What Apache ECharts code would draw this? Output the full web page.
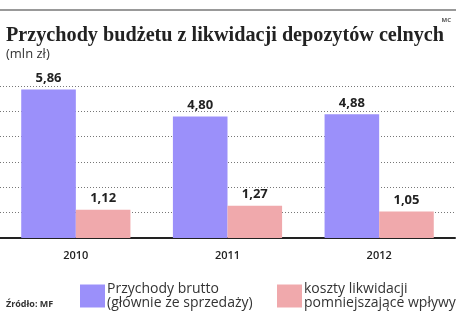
<!DOCTYPE html>
<html>
<head>
<meta charset="utf-8">
<script src="https://cdn.jsdelivr.net/npm/echarts@6/dist/echarts.min.js"></script>
<style>
html, body { margin: 0; padding: 0; background: #fff; }
#chart { width: 456px; height: 312px; }
</style>
</head>
<body>
<div id="chart"></div>
<script>
// dane z wykresu
var years = ['2010', '2011', '2012'];
var brutto = [5.86, 4.80, 4.88];
var koszty = [1.12, 1.27, 1.05];
var yTicks = [0, 1, 2, 3, 4, 5, 6];
var seriesNames = ['Przychody brutto', 'koszty likwidacji'];
var legendLabels = {
  'Przychody brutto': 'Przychody brutto\n(głównie ze sprzedaży)',
  'koszty likwidacji': 'koszty likwidacji\npomniejszające wpływy'
};

var chart = echarts.init(document.getElementById('chart'));

function fmt(p) {
  return p.value.toFixed(2).replace('.', ',');
}

var labelStyle = {
  show: true,
  position: 'top',
  distance: 5,
  formatter: fmt,
  fontFamily: 'Open Sans',
  fontWeight: 'bold',
  fontSize: 13,
  color: '#222'
};

var legendCommon = {
  top: 277,
  itemWidth: 25,
  itemHeight: 23,
  itemGap: 4,
  icon: 'rect',
  formatter: function (n) { return legendLabels[n]; },
  textStyle: { fontFamily: 'Open Sans', fontSize: 14, color: '#333', lineHeight: 14, padding: [0, 0, 0, -3] }
};

chart.setOption({
  animation: false,
  title: [
    {
      text: 'Przychody budżetu z likwidacji depozytów celnych',
      left: 1, top: 21,
      textStyle: { fontFamily: 'Liberation Serif', fontWeight: 'bold', fontSize: 20.2, color: '#222' }
    },
    {
      text: '(mln zł)',
      left: 1, top: 43,
      textStyle: { fontFamily: 'Open Sans', fontWeight: 'normal', fontSize: 13, color: '#333' }
    },
    {
      text: 'Źródło: MF',
      left: 1, top: 295,
      textStyle: { fontFamily: 'Open Sans', fontWeight: 'bold', fontSize: 9, color: '#333' }
    },
    {
      text: 'MC',
      right: 0, top: 12,
      textStyle: { fontFamily: 'Open Sans', fontWeight: 'bold', fontSize: 6, color: '#555' }
    }
  ],
  graphic: [
    {
      type: 'line',
      shape: { x1: 0, y1: 10, x2: 456, y2: 10 },
      style: { stroke: '#999', lineWidth: 2 }
    }
  ],
  legend: [
    Object.assign({ left: 75, data: [seriesNames[0]] }, legendCommon),
    Object.assign({ left: 272, data: [seriesNames[1]] }, legendCommon)
  ],
  grid: { left: 0, right: 1, top: 86, bottom: 74, containLabel: false },
  xAxis: {
    type: 'category',
    data: years,
    axisLine: { show: true, lineStyle: { color: '#222', width: 2 } },
    axisTick: { show: false },
    axisLabel: { fontFamily: 'Open Sans', fontWeight: 600, fontSize: 11, color: '#222', margin: 12 }
  },
  yAxis: {
    type: 'value',
    min: yTicks[0],
    max: yTicks[yTicks.length - 1],
    interval: 1,
    axisLine: { show: false },
    axisTick: { show: false },
    axisLabel: { show: false },
    splitLine: { lineStyle: { color: '#777', type: [1, 2], width: 1 } }
  },
  series: [
    {
      name: seriesNames[0],
      type: 'bar',
      data: brutto,
      barGap: '0%',
      barCategoryGap: '28%',
      itemStyle: { color: '#9b90fa' },
      label: labelStyle,
      z: 3
    },
    {
      name: seriesNames[1],
      type: 'bar',
      data: koszty,
      itemStyle: { color: '#f0a9ac' },
      label: labelStyle,
      z: 3
    }
  ]
});
</script>
</body>
</html>
